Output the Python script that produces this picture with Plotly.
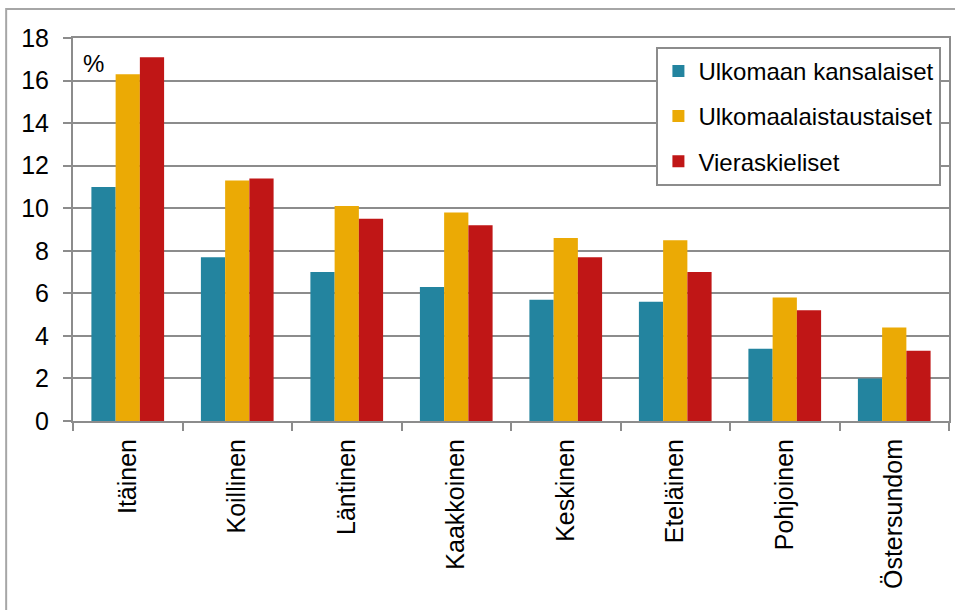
import plotly.graph_objects as go

categories = ["Itäinen", "Koillinen", "Läntinen", "Kaakkoinen", "Keskinen", "Eteläinen", "Pohjoinen", "Östersundom"]
ulkomaan_kansalaiset = [11.0, 7.7, 7.0, 6.3, 5.7, 5.6, 3.4, 2.0]
ulkomaalaistaustaiset = [16.3, 11.3, 10.1, 9.8, 8.6, 8.5, 5.8, 4.4]
vieraskieliset = [17.1, 11.4, 9.5, 9.2, 7.7, 7.0, 5.2, 3.3]
series_names = ["Ulkomaan kansalaiset", "Ulkomaalaistaustaiset", "Vieraskieliset"]
y_ticks = [0, 2, 4, 6, 8, 10, 12, 14, 16, 18]

colors = ["#23849f", "#ebaa05", "#c01616"]
FONT = "Liberation Sans, Arial, sans-serif"
GRID = "#8c8c8c"

fig = go.Figure()
for i, (name, vals) in enumerate(zip(series_names, [ulkomaan_kansalaiset, ulkomaalaistaustaiset, vieraskieliset])):
    fig.add_trace(go.Bar(
        x=categories, y=vals, name=name,
        marker=dict(color=colors[i], line=dict(width=0)),
        legendgroup=f"g{i}",
    ))

fig.update_layout(
    width=955, height=610,
    margin=dict(l=73, r=4, t=38, b=189),
    paper_bgcolor="white", plot_bgcolor="white",
    barmode="group", bargap=0.336, bargroupgap=0,
    font=dict(family=FONT, size=24, color="black"),
    legend=dict(
        x=0.666, y=0.977, xanchor="left", yanchor="top",
        bgcolor="white", bordercolor="#8c8c8c", borderwidth=2,
        font=dict(family=FONT, size=24, color="black"),
        tracegroupgap=11,
    ),
    xaxis=dict(
        type="category", tickangle=-90, showgrid=False,
        showline=True, linecolor=GRID, linewidth=2, mirror=True,
        ticks="outside", ticklen=8, tickwidth=2, tickcolor=GRID,
        tickson="boundaries", ticklabelstandoff=6,
        tickfont=dict(family=FONT, size=25, color="black"),
    ),
    yaxis=dict(
        range=[0, 18], tickvals=y_ticks, showgrid=True, gridcolor=GRID, gridwidth=2,
        showline=True, linecolor=GRID, linewidth=2, mirror=True,
        ticks="outside", ticklen=8, tickwidth=2, tickcolor=GRID,
        ticklabelstandoff=9,
        tickfont=dict(family=FONT, size=25, color="black"),
        zeroline=False,
    ),
)

fig.add_annotation(xref="paper", yref="paper", x=0.009, y=0.975, xanchor="left", yanchor="top",
                   text="%", showarrow=False, font=dict(family=FONT, size=24, color="black"))

# outer chart frame (partially visible)
fig.add_shape(type="rect", xref="paper", yref="paper", x0=-0.0763, y0=-0.55, x1=1.02, y1=1.0757,
              line=dict(color="#a6a6a6", width=2), fillcolor="rgba(0,0,0,0)", layer="below")

fig.write_html("out.html", config={"displayModeBar": False},
               post_script="document.body.style.margin='0';document.body.style.overflow='hidden';")
